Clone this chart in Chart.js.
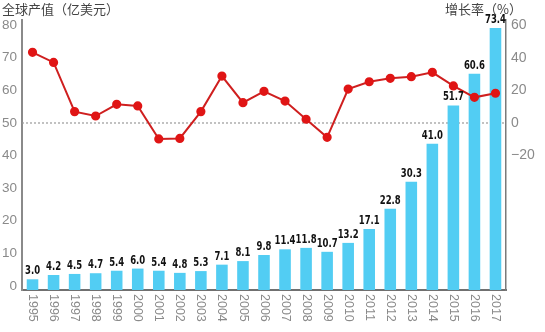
<!DOCTYPE html>
<html lang="zh-CN">
  <head>
    <meta charset="UTF-8" />
    <title>全球产值与增长率</title>
    <script src="https://cdn.jsdelivr.net/npm/chart.js"></script>
    <style>
      body {
        margin: 0;
        padding: 0;
        background: #fff;
      }
      .chart-box {
        width: 545px;
        height: 332px;
        position: relative;
      }
    </style>
  </head>
  <body>
    <div class="chart-box">
      <canvas id="chartOutput"></canvas>
    </div>

    <script>
      const years = [
        "1995", "1996", "1997", "1998", "1999", "2000", "2001", "2002",
        "2003", "2004", "2005", "2006", "2007", "2008", "2009", "2010",
        "2011", "2012", "2013", "2014", "2015", "2016", "2017",
      ];
      // 全球产值（亿美元）
      const output = [
        3.0, 4.2, 4.5, 4.7, 5.4, 6.0, 5.4, 4.8, 5.3, 7.1, 8.1, 9.8,
        11.4, 11.8, 10.7, 13.2, 17.1, 22.8, 30.3, 41.0, 51.7, 60.6, 73.4,
      ];
      // 增长率（%）
      const growth = [
        43.5, 37.3, 7.0, 4.3, 11.5, 10.5, -9.8, -9.5, 7.0, 28.9, 12.5, 19.5,
        13.5, 2.3, -8.8, 20.9, 25.4, 27.5, 28.5, 31.2, 22.8, 15.8, 18.3,
      ];
      const leftTicks = [0, 10, 20, 30, 40, 50, 60, 70, 80];
      const rightTicks = [-20, 0, 20, 40, 60];

      const FONT = '"Liberation Sans", Arial, sans-serif';
      Chart.defaults.font.family = FONT;

      // titles, zero line, value labels and vertical year labels
      const decorations = {
        id: "decorations",
        beforeDatasetsDraw(chart) {
          const { ctx, chartArea } = chart;
          const y0 = chart.scales.y2.getPixelForValue(0);
          ctx.save();
          ctx.strokeStyle = "#9a9a9a";
          ctx.lineWidth = 1.2;
          ctx.setLineDash([2, 2]);
          ctx.beginPath();
          ctx.moveTo(chartArea.left, y0);
          ctx.lineTo(chartArea.right, y0);
          ctx.stroke();
          ctx.restore();
        },
        afterDatasetsDraw(chart) {
          const { ctx } = chart;
          const bars = chart.getDatasetMeta(1).data;
          ctx.save();
          ctx.fillStyle = "#111";
          ctx.font = 'bold 11.5px "DejaVu Sans", sans-serif';
          ctx.textAlign = "center";
          ctx.textBaseline = "alphabetic";
          bars.forEach((bar, i) => {
            // squeezed horizontally to get a narrow, poster-like figure
            ctx.save();
            ctx.translate(bar.x, bar.y - 5);
            ctx.scale(0.74, 1);
            ctx.fillText(output[i].toFixed(1), 0, 0);
            ctx.restore();
          });
          ctx.restore();
        },
        afterDraw(chart) {
          const { ctx, chartArea } = chart;
          const xScale = chart.scales.x;
          ctx.save();
          ctx.fillStyle = "#8a8a8a";
          ctx.font = "12.5px " + FONT;
          ctx.textAlign = "left";
          ctx.textBaseline = "middle";
          years.forEach((yr, i) => {
            ctx.save();
            ctx.translate(xScale.getPixelForValue(i), chartArea.bottom + 4);
            ctx.rotate(Math.PI / 2);
            ctx.fillText(yr, 0, 0);
            ctx.restore();
          });

          ctx.fillStyle = "#444";
          ctx.font = '13px "Noto Sans CJK SC", sans-serif';
          ctx.textBaseline = "middle";
          ctx.textAlign = "left";
          ctx.fillText("全球产值（亿美元）", 2, 9);
          ctx.textAlign = "right";
          ctx.fillText("增长率（%）", 522, 9);
          ctx.restore();
        },
      };

      new Chart(document.getElementById("chartOutput"), {
        data: {
          labels: years,
          datasets: [
            {
              type: "line",
              label: "增长率",
              data: growth,
              yAxisID: "y2",
              borderColor: "#cf1f1f",
              borderWidth: 2,
              backgroundColor: "#e01515",
              pointBackgroundColor: "#e01515",
              pointBorderColor: "#e01515",
              pointRadius: 3.6,
              tension: 0,
              order: 0,
            },
            {
              type: "bar",
              label: "全球产值",
              data: output,
              yAxisID: "yb",
              backgroundColor: "#52cdf3",
              barPercentage: 0.55,
              categoryPercentage: 1,
              order: 1,
            },
          ],
        },
        options: {
          responsive: true,
          maintainAspectRatio: false,
          animation: false,
          layout: { padding: { top: 20, left: 0, right: 0, bottom: 0 } },
          plugins: {
            legend: { display: false },
            tooltip: { enabled: false },
          },
          scales: {
            x: {
              offset: true,
              grid: { display: false },
              ticks: { display: false },
              border: { color: "#707070", width: 2 },
              afterFit(scale) {
                scale.height = 42;
              },
            },
            y: {
              position: "left",
              min: -1.23,
              max: 81.53,
              grid: { display: false, drawTicks: false },
              border: { color: "#8a8a8a", width: 2 },
              ticks: { color: "#8a8a8a", font: { size: 13.5 }, padding: 5 },
              afterBuildTicks(scale) {
                scale.ticks = leftTicks.map((v) => ({ value: v }));
              },
              afterFit(scale) {
                scale.width = 22;
              },
            },
            yb: {
              display: false,
              min: 0,
              max: 75.65,
            },
            y2: {
              position: "right",
              min: -102.8,
              max: 63.4,
              grid: { display: false, drawTicks: false },
              border: { color: "#7a7a7a", width: 1.5 },
              ticks: {
                color: "#8a8a8a",
                font: { size: 14 },
                padding: 5,
                callback: (v) => (v < 0 ? "\u2212" + Math.abs(v) : v),
              },
              afterBuildTicks(scale) {
                scale.ticks = rightTicks.map((v) => ({ value: v }));
              },
              afterFit(scale) {
                scale.width = 39;
              },
            },
          },
        },
        plugins: [decorations],
      });
    </script>
  </body>
</html>
